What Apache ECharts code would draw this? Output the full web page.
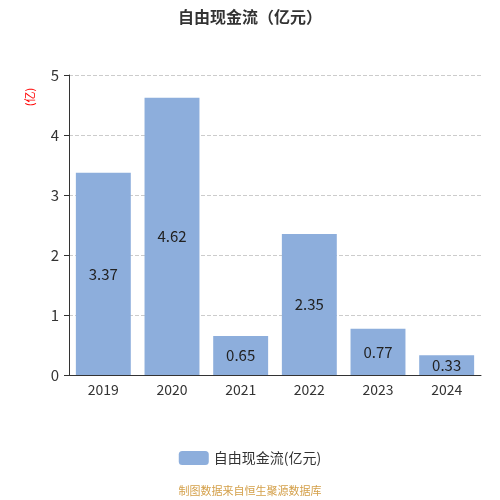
<!DOCTYPE html>
<html>
<head>
<meta charset="utf-8">
<script src="https://cdn.jsdelivr.net/npm/echarts@6/dist/echarts.min.js"></script>
<style>
  html, body { margin: 0; padding: 0; background: #fff; }
  #chart { width: 500px; height: 500px; }
</style>
</head>
<body>
<div id="chart"></div>
<script>
// 数据
var years = ['2019', '2020', '2021', '2022', '2023', '2024'];
var freeCashFlow = [3.37, 4.62, 0.65, 2.35, 0.77, 0.33];
var yTicks = [0, 1, 2, 3, 4, 5];

var chart = echarts.init(document.getElementById('chart'));
var font = '"Noto Sans CJK SC", "Noto Sans", sans-serif';

var option = {
    animation: false,
    textStyle: { fontFamily: font },
    title: {
        text: '自由现金流（亿元）',
        left: 'center',
        top: 4,
        textStyle: { fontSize: 16, fontWeight: 'bold', color: '#333', fontFamily: font }
    },
    graphic: [{
        type: 'text',
        left: 'center',
        top: 485,
        style: { text: '制图数据来自恒生聚源数据库', fill: '#D4A04A', fontSize: 11, fontFamily: font }
    }, {
        // y轴单位
        type: 'text',
        x: 30,
        y: 97,
        rotation: Math.PI / 2,
        style: { text: '(亿)', fill: 'red', fontSize: 11, fontFamily: font, align: 'center', verticalAlign: 'middle' }
    }],
    legend: {
        data: ['自由现金流(亿元)'],
        bottom: 30,
        itemWidth: 30,
        itemHeight: 14,
        textStyle: { fontSize: 14, color: '#333', fontFamily: font }
    },
    grid: { left: 69, right: 19, top: 75, bottom: 125 },
    xAxis: {
        type: 'category',
        data: years,
        axisLine: { lineStyle: { color: '#333' } },
        axisTick: { lineStyle: { color: '#333' } },
        axisLabel: { color: '#333', fontSize: 14, margin: 8 }
    },
    yAxis: {
        type: 'value',
        min: yTicks[0],
        max: yTicks[yTicks.length - 1],
        interval: 1,
        axisLine: { show: true, lineStyle: { color: '#333' } },
        axisTick: { show: true, lineStyle: { color: '#333' } },
        axisLabel: { color: '#333', fontSize: 15, margin: 10 },
        splitLine: { lineStyle: { type: 'dashed', color: '#ccc' } }
    },
    series: [{
        name: '自由现金流(亿元)',
        type: 'bar',
        data: freeCashFlow,
        barWidth: '80%',
        itemStyle: { color: '#8DAEDC' },
        label: {
            show: true,
            position: 'inside',
            color: '#222',
            fontSize: 15
        }
    }]
};
chart.setOption(option);
</script>
</body>
</html>
